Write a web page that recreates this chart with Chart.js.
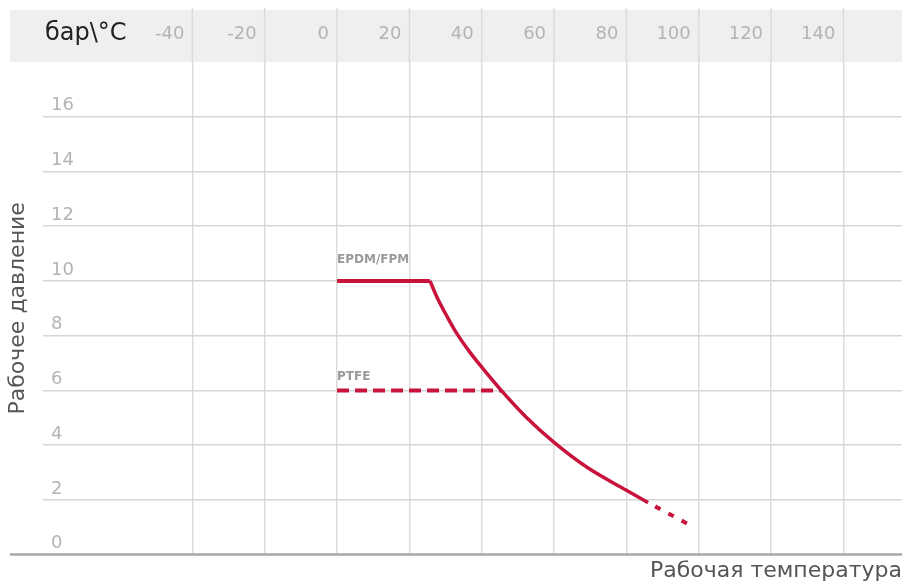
<!DOCTYPE html>
<html><head><meta charset="utf-8">
<script src="https://cdn.jsdelivr.net/npm/chart.js@4"></script>
<style>html,body{margin:0;padding:0;background:#fff}#wrap{width:902px;height:587px;position:relative}</style>
</head><body><div id="wrap"><canvas id="c"></canvas></div>
<script>
// ---- data ----
const xTicks = [-40, -20, 0, 20, 40, 60, 80, 100, 120, 140];
const yTicks = [0, 2, 4, 6, 8, 10, 12, 14, 16];
const epdmFlatT = [0, 25.7];
const epdmFlatP = [10, 10];
const epdmCurveT = [25.7, 28, 30, 33, 36.7, 40, 45.4, 52.3, 60, 69, 80, 86];
const epdmCurveP = [10, 9.3, 8.8, 8.1, 7.4, 6.85, 6.0, 5.02, 4.1, 3.2, 2.35, 1.9];
const epdmExtT = [86, 98];
const epdmExtP = [1.9, 1.05];
const ptfeT = [0, 45.4];
const ptfeP = [6, 6];
const seriesNames = ['EPDM/FPM', 'PTFE'];
const cornerLabel = 'бар\\°C';
const xTitle = 'Рабочая температура';
const yTitle = 'Рабочее давление';

const pts = (t, p) => t.map((v, i) => ({x: v, y: p[i]}));
const RED = '#c8143c';
const GRID = '#dcdcdc';
const TICK_FONT = {family: 'DejaVu Sans', size: 18};
const TITLE_FONT = {family: 'DejaVu Sans', size: 22};

const framePlugin = {
  id: 'frame',
  beforeDraw(chart) {
    const {ctx, chartArea: a, scales: {x}} = chart;
    ctx.save();
    ctx.fillStyle = '#f0eeee';
    ctx.fillRect(10, 10, chart.width - 10, a.top - 10);
    // vertical grid lines continue through the header band
    ctx.strokeStyle = GRID;
    ctx.lineWidth = 1.5;
    x.ticks.forEach(t => {
      const px = x.getPixelForValue(t.value);
      ctx.beginPath();
      ctx.moveTo(px, 8);
      ctx.lineTo(px, a.top);
      ctx.stroke();
    });
    // corner unit label
    ctx.fillStyle = '#222';
    ctx.font = '24px "DejaVu Sans"';
    ctx.textAlign = 'left';
    ctx.textBaseline = 'middle';
    ctx.fillText(cornerLabel, a.left + 2, 34);
    ctx.restore();
  },
  beforeDatasetsDraw(chart) {
    const {ctx, scales: {y}} = chart;
    const yb = y.getPixelForValue(0);
    ctx.save();
    ctx.strokeStyle = '#a8a8a8';
    ctx.lineWidth = 2.5;
    ctx.beginPath();
    ctx.moveTo(10, yb);
    ctx.lineTo(chart.width, yb);
    ctx.stroke();
    ctx.restore();
  },
  afterDatasetsDraw(chart) {
    const {ctx} = chart;
    chart.data.datasets.forEach((ds, i) => {
      if (!ds.tag) return;
      const p = chart.getDatasetMeta(i).data[0];
      ctx.save();
      ctx.font = 'bold 12px "DejaVu Sans"';
      ctx.fillStyle = '#9a9a9a';
      ctx.textAlign = 'left';
      ctx.textBaseline = 'middle';
      ctx.fillText(ds.label, p.x, p.y - ds.tagOffset);
      ctx.restore();
    });
  }
};

new Chart(document.getElementById('c'), {
  type: 'line',
  data: {
    datasets: [
      {label: seriesNames[0], tag: true, tagOffset: 21, data: pts(epdmFlatT, epdmFlatP),
       borderColor: RED, borderWidth: 4, pointRadius: 0, tension: 0},
      {label: seriesNames[0] + ' curve', data: pts(epdmCurveT, epdmCurveP),
       borderColor: RED, borderWidth: 3.5, pointRadius: 0, cubicInterpolationMode: 'monotone'},
      {label: seriesNames[0] + ' ext', data: pts(epdmExtT, epdmExtP),
       borderColor: RED, borderWidth: 4, pointRadius: 0, borderDash: [6, 9], borderDashOffset: 7},
      {label: seriesNames[1], tag: true, tagOffset: 14, data: pts(ptfeT, ptfeP),
       borderColor: RED, borderWidth: 4, pointRadius: 0, borderDash: [12, 6]}
    ]
  },
  options: {
    responsive: true,
    maintainAspectRatio: false,
    animation: false,
    layout: {padding: {top: 6, left: 2, right: 0, bottom: 0}},
    plugins: {legend: {display: false}, tooltip: {enabled: false}},
    scales: {
      x: {
        type: 'linear', position: 'top', min: -81.3, max: 156.2, bounds: 'data',
        afterBuildTicks: s => { s.ticks = xTicks.map(v => ({value: v})); },
        grid: {color: GRID, lineWidth: 1.5, drawTicks: false},
        border: {display: false},
        ticks: {align: 'end', labelOffset: -8, padding: 17.2, maxRotation: 0, minRotation: 0, autoSkip: false,
                color: '#b4b4b4', font: TICK_FONT}
      },
      x2: {
        type: 'linear', axis: 'x', position: 'bottom', min: 0, max: 1,
        grid: {display: false, drawTicks: false},
        border: {display: false},
        ticks: {display: false},
        title: {display: true, text: xTitle, align: 'end', color: '#555', font: TITLE_FONT,
                padding: {top: 3, bottom: 3}}
      },
      y: {
        type: 'linear', position: 'left', min: 0, max: 18, bounds: 'data',
        afterBuildTicks: s => { s.ticks = yTicks.map(v => ({value: v})); },
        grid: {color: '#d6d6d6', lineWidth: c => (c.tick && c.tick.value === 0) ? 0 : 1.5, drawTicks: false},
        border: {display: false},
        ticks: {mirror: true, padding: 8, labelOffset: -11, color: '#b4b4b4', font: TICK_FONT},
        title: {display: true, text: yTitle, color: '#555', font: TITLE_FONT, padding: {top: 2.6, bottom: -4}}
      }
    }
  },
  plugins: [framePlugin]
});
</script>
</body></html>
